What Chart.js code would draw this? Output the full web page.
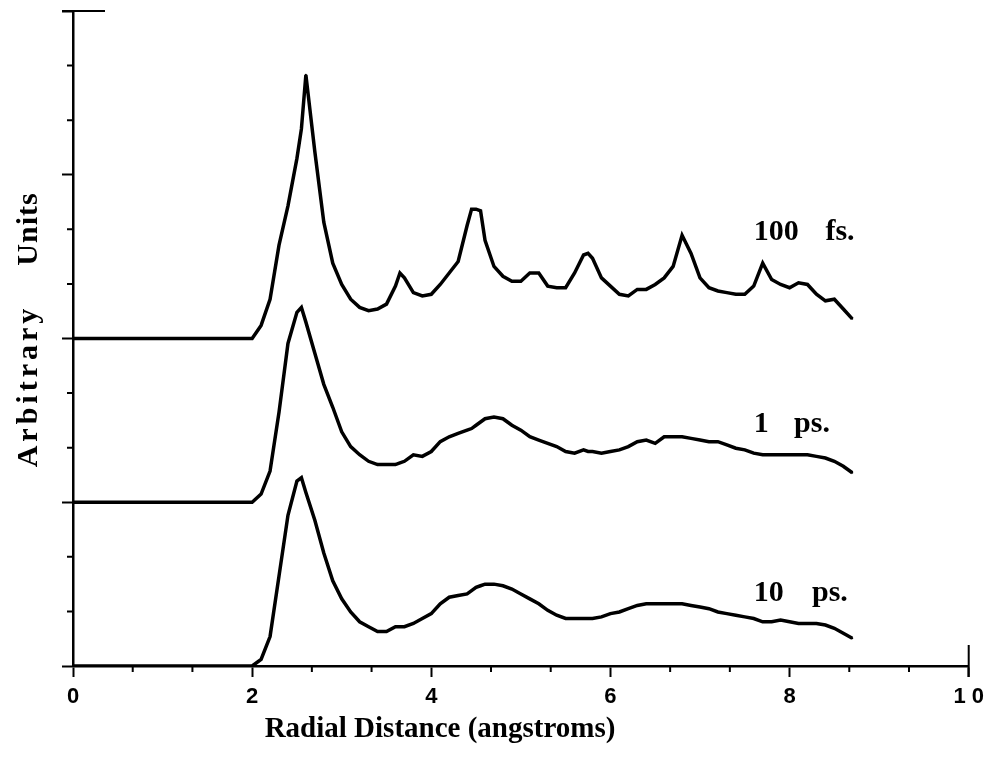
<!DOCTYPE html>
<html>
<head>
<meta charset="utf-8">
<script src="https://cdn.jsdelivr.net/npm/chart.js@4.4.1/dist/chart.umd.min.js"></script>
<style>
  body { margin: 0; background: #fff; }
  #wrap { width: 991px; height: 758px; position: relative; }
</style>
</head>
<body>
<div id="wrap"><canvas id="rdfChart"></canvas></div>
<script>
// radial distance grid (angstroms), shared by all three curves
var radius = [
  0, 0.1, 0.2, 0.3, 0.4, 0.5, 0.6, 0.7, 0.8, 0.9, 1.0,
  1.1, 1.2, 1.3, 1.4, 1.5, 1.6, 1.7, 1.8, 1.9, 2.0,
  2.1, 2.2, 2.3, 2.4, 2.5, 2.55, 2.6, 2.7, 2.8, 2.9, 3.0,
  3.1, 3.2, 3.3, 3.4, 3.5, 3.6, 3.65, 3.7, 3.8, 3.9, 4.0,
  4.1, 4.2, 4.3, 4.4, 4.45, 4.5, 4.55, 4.6, 4.7, 4.8, 4.9, 5.0,
  5.1, 5.2, 5.3, 5.4, 5.5, 5.6, 5.7, 5.75, 5.8, 5.9, 6.0,
  6.1, 6.2, 6.3, 6.4, 6.5, 6.6, 6.7, 6.8, 6.9, 7.0,
  7.1, 7.2, 7.3, 7.4, 7.5, 7.6, 7.7, 7.8, 7.9, 8.0,
  8.1, 8.2, 8.3, 8.4, 8.5, 8.6, 8.7
];

// g(r) after 100 fs
var g100fs = [
  0, 0, 0, 0, 0, 0, 0, 0, 0, 0, 0,
  0, 0, 0, 0, 0, 0, 0, 0, 0, 0,
  0.08, 0.24, 0.57, 0.81, 1.10, 1.28, 1.61, 1.14, 0.71, 0.46, 0.33,
  0.24, 0.19, 0.17, 0.18, 0.21, 0.32, 0.40, 0.37, 0.28, 0.26, 0.27,
  0.33, 0.40, 0.47, 0.69, 0.79, 0.79, 0.78, 0.60, 0.44, 0.38, 0.35, 0.35,
  0.40, 0.40, 0.32, 0.31, 0.31, 0.40, 0.51, 0.52, 0.49, 0.37, 0.32,
  0.27, 0.26, 0.30, 0.30, 0.33, 0.37, 0.44, 0.63, 0.52, 0.37,
  0.31, 0.29, 0.28, 0.27, 0.27, 0.32, 0.46, 0.36, 0.33, 0.31,
  0.34, 0.33, 0.27, 0.23, 0.24, 0.18, 0.12
];

// g(r) after 1 ps
var g1ps = [
  0, 0, 0, 0, 0, 0, 0, 0, 0, 0, 0,
  0, 0, 0, 0, 0, 0, 0, 0, 0, 0,
  0.05, 0.19, 0.55, 0.97, 1.16, 1.19, 1.10, 0.91, 0.72, 0.58, 0.43,
  0.34, 0.29, 0.25, 0.23, 0.23, 0.23, 0.24, 0.25, 0.29, 0.28, 0.31,
  0.37, 0.40, 0.42, 0.44, 0.45, 0.47, 0.49, 0.51, 0.52, 0.51, 0.47, 0.44,
  0.40, 0.38, 0.36, 0.34, 0.31, 0.30, 0.32, 0.31, 0.31, 0.30, 0.31,
  0.32, 0.34, 0.37, 0.38, 0.36, 0.40, 0.40, 0.40, 0.39, 0.38,
  0.37, 0.37, 0.35, 0.33, 0.32, 0.30, 0.29, 0.29, 0.29, 0.29,
  0.29, 0.29, 0.28, 0.27, 0.25, 0.22, 0.18
];

// g(r) after 10 ps
var g10ps = [
  0, 0, 0, 0, 0, 0, 0, 0, 0, 0, 0,
  0, 0, 0, 0, 0, 0, 0, 0, 0, 0,
  0.04, 0.18, 0.55, 0.92, 1.13, 1.15, 1.06, 0.89, 0.69, 0.52, 0.41,
  0.33, 0.27, 0.24, 0.21, 0.21, 0.24, 0.24, 0.24, 0.26, 0.29, 0.32,
  0.38, 0.42, 0.43, 0.44, 0.46, 0.48, 0.49, 0.50, 0.50, 0.49, 0.47, 0.44,
  0.41, 0.38, 0.34, 0.31, 0.29, 0.29, 0.29, 0.29, 0.29, 0.30, 0.32,
  0.33, 0.35, 0.37, 0.38, 0.38, 0.38, 0.38, 0.38, 0.37, 0.36,
  0.35, 0.33, 0.32, 0.31, 0.30, 0.29, 0.27, 0.27, 0.28, 0.27,
  0.26, 0.26, 0.26, 0.25, 0.23, 0.20, 0.17
];

// curves are stacked one unit apart
var seriesNames = ['100 fs.', '1 ps.', '10 ps.'];
var seriesValues = [g100fs, g1ps, g10ps];
var seriesOffsets = [2, 1, 0];

var serif = "'Liberation Serif', 'Times New Roman', serif";
var sans = "'Liberation Sans', Arial, sans-serif";

function toPoints(values, offset) {
  return radius.map(function(r, i) {
    return { x: r, y: values[i] + offset };
  });
}

var datasets = seriesNames.map(function(name, k) {
  return {
    label: name,
    data: toPoints(seriesValues[k], seriesOffsets[k]),
    borderColor: '#000',
    backgroundColor: '#000',
    borderWidth: 3.5,
    pointRadius: 1,
    pointBorderWidth: 0,
    pointHoverRadius: 1,
    tension: 0,
    fill: false
  };
});

// minor ticks, frame stubs, axis titles and curve labels
var decorations = {
  id: 'decorations',
  afterDraw: function(chart) {
    var ctx = chart.ctx;
    var xs = chart.scales.x;
    var ys = chart.scales.y;
    var area = chart.chartArea;
    ctx.save();
    ctx.strokeStyle = '#000';
    ctx.lineWidth = 2;

    // minor ticks every 2/3 on x, every 1/3 on y
    ctx.beginPath();
    for (var i = 1; i < 15; i++) {
      if (i % 3 === 0) continue;
      var px = xs.getPixelForValue(i * 2 / 3);
      ctx.moveTo(px, area.bottom);
      ctx.lineTo(px, area.bottom + 6);
    }
    for (var j = 1; j < 12; j++) {
      if (j % 3 === 0) continue;
      var py = ys.getPixelForValue(j / 3);
      ctx.moveTo(area.left, py);
      ctx.lineTo(area.left - 6, py);
    }
    // top stub and right stub of the frame
    ctx.moveTo(area.left - 11, area.top);
    ctx.lineTo(area.left + 32, area.top);
    ctx.moveTo(area.right, area.bottom + 11);
    ctx.lineTo(area.right, area.bottom - 21);
    ctx.stroke();

    ctx.fillStyle = '#000';

    // x title
    ctx.font = 'bold 29px ' + serif;
    ctx.textAlign = 'center';
    ctx.textBaseline = 'alphabetic';
    ctx.fillText('Radial Distance (angstroms)', 440, 737);

    // y title, rotated, letter-spaced
    ctx.font = 'bold 30px ' + serif;
    ctx.save();
    ctx.letterSpacing = '4px';
    ctx.translate(37, 386);
    ctx.rotate(-Math.PI / 2);
    ctx.fillText('Arbitrary', 0, 0);
    ctx.restore();
    ctx.save();
    ctx.letterSpacing = '1px';
    ctx.translate(37, 229);
    ctx.rotate(-Math.PI / 2);
    ctx.fillText('Units', 0, 0);
    ctx.restore();

    // curve labels: number then unit
    ctx.textAlign = 'left';
    var labelX = xs.getPixelForValue(7.6);
    var unitX = [xs.getPixelForValue(8.4), xs.getPixelForValue(8.05), xs.getPixelForValue(8.25)];
    var labelY = [2.6, 1.43, 0.4];
    var parts = [['100', 'fs.'], ['1', 'ps.'], ['10', 'ps.']];
    for (var k = 0; k < 3; k++) {
      var ty = ys.getPixelForValue(labelY[k]);
      ctx.fillText(parts[k][0], labelX, ty);
      ctx.fillText(parts[k][1], unitX[k], ty);
    }
    ctx.restore();
  }
};

var ctx = document.getElementById('rdfChart').getContext('2d');
var myChart = new Chart(ctx, {
  type: 'line',
  data: { datasets: datasets },
  options: {
    responsive: true,
    maintainAspectRatio: false,
    animation: false,
    layout: { padding: { top: 11, right: 20, left: 0, bottom: 0 } },
    plugins: {
      legend: { display: false },
      tooltip: { enabled: false }
    },
    scales: {
      x: {
        type: 'linear',
        min: 0,
        max: 10,
        afterFit: function(scale) { scale.height = 92; },
        border: { color: '#000', width: 2.5 },
        grid: { drawOnChartArea: false, drawTicks: true, tickLength: 11, tickColor: '#000', tickWidth: 2 },
        ticks: {
          stepSize: 2,
          color: '#000',
          padding: 7,
          font: { family: sans, size: 22, weight: 'bold' },
          maxRotation: 0,
          callback: function(v) { return v === 10 ? '1 0' : String(v); }
        }
      },
      y: {
        type: 'linear',
        min: 0,
        max: 4,
        afterFit: function(scale) { scale.width = 73; },
        border: { color: '#000', width: 2.5 },
        grid: { drawOnChartArea: false, drawTicks: true, tickLength: 11, tickColor: '#000', tickWidth: 2 },
        ticks: {
          stepSize: 1,
          callback: function() { return ''; }
        }
      }
    }
  },
  plugins: [decorations]
});
</script>
</body>
</html>
